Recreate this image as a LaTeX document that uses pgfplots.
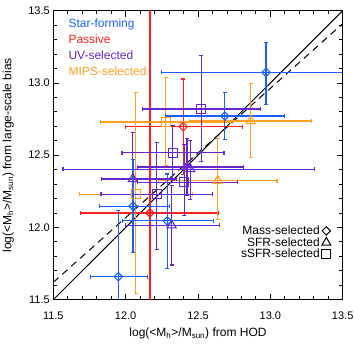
\documentclass[border=0pt]{standalone}
\usepackage{pgfplots}
\pgfplotsset{compat=1.18}
\usepackage{fontspec}
\setmainfont{Liberation Sans}
\definecolor{sfblue}{RGB}{25,95,255}
\definecolor{pasred}{RGB}{255,30,30}
\definecolor{uvpurple}{RGB}{100,40,205}
\definecolor{mipsorange}{RGB}{255,160,30}
\pgfdeclareplotmark{sqdiamond}{%
  \pgfpathmoveto{\pgfqpoint{0pt}{\pgfplotmarksize}}%
  \pgfpathlineto{\pgfqpoint{\pgfplotmarksize}{0pt}}%
  \pgfpathlineto{\pgfqpoint{0pt}{-\pgfplotmarksize}}%
  \pgfpathlineto{\pgfqpoint{-\pgfplotmarksize}{0pt}}%
  \pgfpathclose\pgfusepathqstroke}
\pgfplotsset{
  pts/.style n args={3}{forget plot, only marks, draw=#1, color=#1, mark=#2, mark size=#3,
    mark options={solid, fill=none, line width=1.1pt, draw=#1},
    /pgfplots/error bars/x dir=both, /pgfplots/error bars/y dir=both,
    /pgfplots/error bars/x explicit, /pgfplots/error bars/y explicit,
    /pgfplots/error bars/error bar style={line width=1.1pt, draw=#1},
    /pgfplots/error bars/error mark options={rotate=90, mark size=2pt, line width=1.1pt, draw=#1}},
}
\begin{document}
\begin{tikzpicture}
\begin{axis}[
  width=289.4pt, height=289pt, scale only axis,
  xmin=11.5, xmax=13.5, ymin=11.5, ymax=13.5,
  xtick={11.5,12,12.5,13,13.5}, ytick={11.5,12,12.5,13,13.5},
  minor tick num=4,
  tick align=inside,
  major tick length=6pt, minor tick length=3.5pt,
  tick style={black, line width=0.8pt},
  axis line style={line width=1pt},
  ticklabel style={font=\fontsize{11}{13}\selectfont},
  xticklabel style={yshift=-9pt},
  /pgf/number format/fixed, /pgf/number format/fixed zerofill,
  /pgf/number format/precision=1, /pgf/number format/assume math mode=true,
  xlabel={log(<M\textsubscript{h}>/M\textsubscript{sun}) from HOD},
  ylabel={log(<M\textsubscript{h}>/M\textsubscript{sun}) from large-scale bias},
  label style={font=\fontsize{12}{14}\selectfont},
  xlabel style={at={(axis description cs:0.5,-0.1176)}, anchor=center},
  ylabel style={at={(axis description cs:-0.1555,0.5)}, anchor=center},
  legend plot pos=right, legend cell align=right,
  legend style={at={(rel axis cs:0.97,0.125)}, anchor=south east, draw=none, fill=none,
    font=\fontsize{12}{14}\selectfont, row sep=-2.5pt},
]
\addlegendimage{only marks, black, mark=sqdiamond, mark size=4.2pt, mark options={line width=1pt, fill=none}}
\addlegendimage{only marks, black, mark=triangle, mark size=5.2pt, mark options={line width=1pt, fill=none}}
\addlegendimage{only marks, black, mark=square, mark size=4.5pt, mark options={line width=1pt, fill=none}}
\legend{Mass-selected, SFR-selected, sSFR-selected}

% one-to-one and dashed relation
\addplot[forget plot, black, line width=1pt] coordinates {(11.5,11.5) (13.5,13.5)};
\addplot[forget plot, black, line width=1pt, dash pattern=on 7pt off 5pt] coordinates {(11.5,11.62) (13.5,13.41)};

% Passive (red, diamonds)
\addplot[pts={pasred}{sqdiamond}{4.2pt}] coordinates {
 (12.168,12.10) += (0.47,2.0) -= (0.48,2.0)
 (12.398,12.697) += (0.41,0.33) -= (0.40,0.33)
};
% MIPS-selected (orange)
\addplot[pts={mipsorange}{square}{4.5pt}] coordinates {
 (12.277,12.730) += (0.45,0.31) -= (0.45,0.30)
 (12.069,12.231) += (0.39,0.70) -= (0.385,0.69)
};
\addplot[pts={mipsorange}{triangle}{5.2pt}] coordinates {
 (12.864,12.737) += (0.42,0.26) -= (0.42,0.25)
 (12.636,12.324) += (0.41,0.29) -= (0.41,0.27)
};
% UV-selected (purple)
\addplot[pts={uvpurple}{square}{4.5pt}] coordinates {
 (12.523,12.820) += (0.41,0.37) -= (0.405,0.365)
 (12.325,12.517) += (0.355,0.19) -= (0.35,0.19)
 (12.215,12.229) += (0.387,0.36) -= (0.385,0.38)
 (12.405,12.312) += (0.37,0.26) -= (0.32,0.23)
};
\addplot[pts={uvpurple}{triangle}{5.2pt}] coordinates {
 (12.049,12.335) += (0.30,0.32) -= (0.215,0.32)
 (12.318,12.015) += (0.33,0.275) -= (0.32,0.275)
 (12.424,12.418) += (0.39,0.20) -= (0.34,0.20)
 (12.447,12.404) += (0.86,0.20) -= (0.88,0.21)
};
% Star-forming (blue, diamonds)
\addplot[pts={sfblue}{sqdiamond}{4.2pt}] coordinates {
 (12.970,13.073) += (0.80,0.21) -= (0.72,0.22)
 (12.685,12.771) += (0.41,0.16) -= (0.41,0.16)
 (12.051,12.148) += (0.25,0.32) -= (0.23,0.32)
 (12.288,12.045) += (0.32,0.325) -= (0.31,0.33)
 (11.949,11.659) += (0.20,0.46) -= (0.19,0.46)
};

\begin{scope}[every node/.style={anchor=base west, inner sep=0pt, font=\fontsize{12}{14}\selectfont}]
\node[text=sfblue] at (rel axis cs:0.052,0.942) {Star-forming};
\node[text=pasred] at (rel axis cs:0.052,0.887) {Passive};
\node[text=uvpurple] at (rel axis cs:0.052,0.830) {UV-selected};
\node[text=mipsorange] at (rel axis cs:0.052,0.775) {MIPS-selected};
\end{scope}
\end{axis}
\pgfresetboundingbox
\path (current axis.south west) +(-53.3pt,-54.3pt) (current axis.north east) +(11.3pt,10.7pt);
\end{tikzpicture}
\end{document}
